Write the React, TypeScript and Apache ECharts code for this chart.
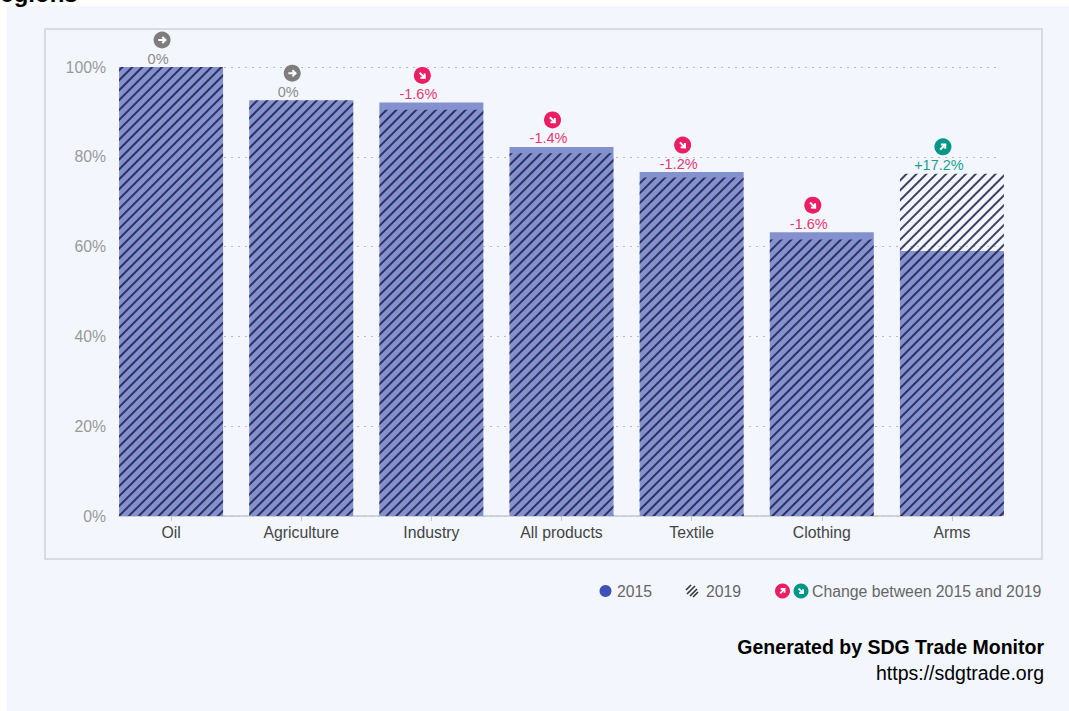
import React, { useEffect, useRef } from "react";
import * as echarts from "echarts";

const categories = ["Oil", "Agriculture", "Industry", "All products", "Textile", "Clothing", "Arms"];
const values2015 = [100, 92.6, 92.1, 82.2, 76.6, 63.2, 59];
const values2019 = [100, 92.6, 90.5, 80.8, 75.4, 61.6, 76.2];
const changes = [0, 0, -1.6, -1.4, -1.2, -1.6, 17.2];
const yTicks = [0, 20, 40, 60, 80, 100];

const FONT = '"Liberation Sans", Arial, sans-serif';
const BLUE = "#8391cf";
const PINK = "#ec1e63";
const TEAL = "#009688";
const GREY = "#7d7d7d";

const changeColor = (c: number) => (c > 0 ? TEAL : c < 0 ? PINK : GREY);
const textColor = (c: number) => (c > 0 ? "#17a08f" : c < 0 ? "#e8366f" : "#8c8c8c");
const changeLabel = (c: number) => (c > 0 ? `+${c}%` : `${c}%`);
const changeAngle = (c: number) => (c > 0 ? Math.PI / 4 : c < 0 ? -Math.PI / 4 : 0);

// White arrow pointing right at the origin; the rotation turns it up or down.
const arrowParts = (scale: number) => [
  {
    type: "line",
    shape: { x1: -3.8 * scale, y1: 0, x2: 3 * scale, y2: 0 },
    style: { stroke: "#fff", lineWidth: 2 * scale, fill: "none" },
  },
  {
    type: "polyline",
    shape: {
      points: [
        [0.2 * scale, -3 * scale],
        [3.4 * scale, 0],
        [0.2 * scale, 3 * scale],
      ],
    },
    style: { stroke: "#fff", lineWidth: 2 * scale, fill: "none" },
  },
];

const badge = (cx: number, cy: number, r: number, color: string, angle: number) => ({
  type: "group",
  x: cx,
  y: cy,
  children: [
    { type: "circle", shape: { cx: 0, cy: 0, r }, style: { fill: color } },
    { type: "group", rotation: angle, children: arrowParts(r / 8.5) },
  ],
});

const legendText = (x: number, y: number, text: string, extra: object = {}) => ({
  type: "text",
  x,
  y,
  style: {
    text,
    fill: "#666",
    font: `15.8px ${FONT}`,
    verticalAlign: "middle",
    ...extra,
  },
});

const hatchIcon = (cx: number, cy: number) => ({
  type: "group",
  x: cx,
  y: cy,
  children: [
    [-6, -1, -1, -6],
    [-5, 3, 3, -5],
    [-2, 5, 5, -2],
    [1, 6, 6, 1],
  ].map(([x1, y1, x2, y2]) => ({
    type: "line",
    shape: { x1, y1, x2, y2 },
    style: { stroke: "#333", lineWidth: 1.6 },
  })),
});

export default function App() {
  const ref = useRef<HTMLDivElement>(null);

  useEffect(() => {
    const chart = echarts.init(ref.current!, undefined, { renderer: "svg" });
    chart.setOption({
      animation: false,
      backgroundColor: "#fff",
      grid: [
        { left: 106, right: 52, top: 67, bottom: 195 },
        { left: 119, right: 68, top: 67, bottom: 195 },
      ],
      xAxis: [
        {
          type: "category",
          gridIndex: 0,
          data: categories,
          axisLine: { show: false },
          axisTick: { show: true, alignWithLabel: true, length: 5, lineStyle: { color: "#c4c4c4" } },
          axisLabel: { color: "#444", fontSize: 15.8, fontFamily: FONT, margin: 8 },
        },
        {
          type: "value",
          gridIndex: 1,
          min: 0,
          max: 1,
          axisLine: { show: true, onZero: false, lineStyle: { color: "#c4c8cc", width: 1.5 } },
          axisTick: { show: false },
          axisLabel: { show: false },
          splitLine: { show: false },
        },
      ],
      yAxis: [
        {
          type: "value",
          gridIndex: 0,
          min: 0,
          max: 100,
          interval: 20,
          axisLine: { show: false },
          axisTick: { show: false },
          splitLine: { show: false },
          axisLabel: {
            color: "#999",
            fontSize: 15.8,
            fontFamily: FONT,
            margin: 0,
            formatter: (v: number) => (yTicks.includes(v) ? `${v}%` : ""),
          },
        },
        {
          type: "value",
          gridIndex: 1,
          min: 0,
          max: 100,
          interval: 20,
          axisLine: { show: false },
          axisTick: { show: false },
          axisLabel: { show: false },
          splitLine: { show: true, lineStyle: { color: "#b9bcc0", width: 1, type: [2, 5] } },
        },
      ],
      series: [
        {
          type: "bar",
          name: "2015",
          data: values2015,
          barWidth: 104,
          barGap: "-100%",
          z: 3,
          itemStyle: { color: BLUE },
        },
        {
          type: "bar",
          name: "2019",
          data: values2019,
          barWidth: 104,
          barGap: "-100%",
          z: 4,
          itemStyle: {
            color: "rgba(0,0,0,0)",
            decal: {
              symbol: "rect",
              symbolSize: 1,
              color: "rgba(30,32,76,0.85)",
              backgroundColor: "rgba(0,0,0,0)",
              dashArrayX: [1, 0],
              dashArrayY: [1.1, 4.9],
              rotation: -Math.PI / 4,
            },
          },
        },
        {
          type: "custom",
          name: "Change between 2015 and 2019",
          z: 5,
          encode: { x: 0, y: 1 },
          data: categories.map((_, i) => [i, Math.max(values2015[i], values2019[i]), changes[i]]),
          renderItem: (_params: any, api: any) => {
            const [x, y] = api.coord([api.value(0), api.value(1)]);
            const c = api.value(2) as number;
            return {
              type: "group",
              children: [
                badge(x - 9, y - 27, 8.5, changeColor(c), changeAngle(c)),
                {
                  type: "text",
                  x: x - 13,
                  y: y - 8.5,
                  style: {
                    text: changeLabel(c),
                    fill: textColor(c),
                    font: `14.5px ${FONT}`,
                    align: "center",
                    verticalAlign: "middle",
                  },
                },
              ],
            };
          },
        },
      ],
      graphic: [
        { type: "rect", z: -10, shape: { x: 7, y: 6, width: 1062, height: 705 }, style: { fill: "#f3f7fd" } },
        {
          type: "text",
          z: -5,
          x: -17,
          y: 5.5,
          style: { text: "Regions", fill: "#000", font: `bold 24px ${FONT}`, verticalAlign: "bottom" },
        },
        {
          type: "rect",
          z: -9,
          shape: { x: 45, y: 29, width: 997, height: 530 },
          style: { fill: "none", stroke: "#d0d3d6", lineWidth: 1.5 },
        },
        { type: "circle", shape: { cx: 605.5, cy: 591, r: 6 }, style: { fill: "#3f51b5" } },
        legendText(617, 591, "2015"),
        hatchIcon(692, 591),
        legendText(706, 591, "2019"),
        badge(782.5, 591, 7.5, PINK, Math.PI / 4),
        badge(801, 591, 7.5, TEAL, -Math.PI / 4),
        legendText(812, 591, "Change between 2015 and 2019"),
        legendText(1044, 647, "Generated by SDG Trade Monitor", {
          fill: "#000",
          font: `bold 19.5px ${FONT}`,
          align: "right",
        }),
        legendText(1044, 673, "https://sdgtrade.org", {
          fill: "#000",
          font: `19.5px ${FONT}`,
          align: "right",
        }),
      ],
    });
    return () => chart.dispose();
  }, []);

  return <div ref={ref} style={{ position: "absolute", left: 0, top: 0, width: 1069, height: 711 }} />;
}
